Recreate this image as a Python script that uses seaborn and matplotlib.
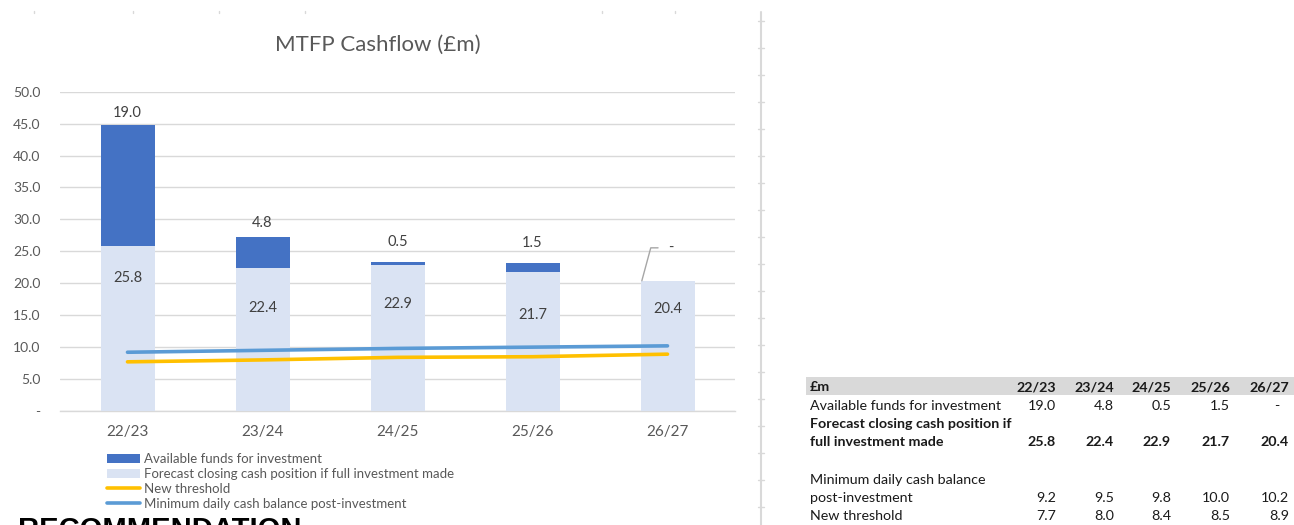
import numpy as np
import pandas as pd
import matplotlib
matplotlib.use("Agg")
import matplotlib.pyplot as plt
from matplotlib.lines import Line2D
from matplotlib.patches import Patch, Rectangle
import seaborn as sns

# ---- data (£m) ----
years = ["22/23", "23/24", "24/25", "25/26", "26/27"]
available_funds = [19.0, 4.8, 0.5, 1.5, 0.0]
closing_cash = [25.8, 22.4, 22.9, 21.7, 20.4]
min_daily_balance = [9.2, 9.5, 9.8, 10.0, 10.2]
new_threshold = [7.7, 8.0, 8.4, 8.5, 8.9]
y_ticks = [0, 5, 10, 15, 20, 25, 30, 35, 40, 45, 50]

series_names = [
    "Available funds for investment",
    "Forecast closing cash position if full investment made",
    "New threshold",
    "Minimum daily cash balance post-investment",
]

# ---- label placement (data units) ----
top_label_y = [46.6, 29.4, 26.4, 26.3, 25.6]
inner_label_y = [20.9, 16.2, 16.7, 15.1, 15.9]

# ---- style ----
DARK = "#4472C4"
LIGHT = "#DAE3F3"
YELLOW = "#FFC000"
BLUE = "#5B9BD5"
GRID = "#D9D9D9"
TXT = "#595959"

W, H = 1294, 525
sns.set_style("white")
plt.rcParams["font.family"] = ["Lato", "DejaVu Sans"]


def fx(px):
    return px / W


def fy(py):
    return 1 - py / H


def fmt(v):
    return "-" if v == 0 else f"{v:.1f}"


fig = plt.figure(figsize=(W / 100, H / 100), dpi=100)
ax = fig.add_axes([fx(60), fy(411), (735 - 60) / W, (411 - 91.7) / H])

df = pd.DataFrame({
    "year": years,
    "total": np.add(closing_cash, available_funds),
    "closing": closing_cash,
})

# stacked bars: full height in dark blue, closing cash overlaid in light blue
sns.barplot(data=df, x="year", y="total", color=DARK, saturation=1,
            width=0.4, linewidth=0, ax=ax, zorder=2)
sns.barplot(data=df, x="year", y="closing", color=LIGHT, saturation=1,
            width=0.4, linewidth=0, ax=ax, zorder=3)

xpos = np.arange(len(years))
sns.lineplot(x=xpos, y=new_threshold, color=YELLOW, linewidth=2.6, ax=ax, zorder=4)
sns.lineplot(x=xpos, y=min_daily_balance, color=BLUE, linewidth=2.6, ax=ax, zorder=4)

# ---- data labels ----
LFS = 10.5
for i, (a, c) in enumerate(zip(available_funds, closing_cash)):
    if a > 0:
        ax.text(i, top_label_y[i], fmt(a), ha="center", va="center",
                fontsize=LFS, color="#404040", zorder=5)
    else:
        # leader line to the dash label above the bar
        ax.plot([i - 0.19, i - 0.124, i - 0.07],
                [c, top_label_y[i] - 0.05, top_label_y[i] - 0.05],
                color="#A6A6A6", lw=1, zorder=5, clip_on=False)
        ax.text(i + 0.024, top_label_y[i], fmt(a), ha="center", va="center",
                fontsize=LFS, color="#404040", zorder=5)
    ax.text(i, inner_label_y[i], fmt(c), ha="center", va="center",
            fontsize=LFS, color="#404040", zorder=5)

# ---- axes styling ----
ax.set_xlim(-0.5, len(years) - 0.5)
ax.set_ylim(0, 50)
ax.set_yticks(y_ticks)
ax.set_yticklabels([fmt(v) for v in y_ticks])
ax.set_xticks(xpos)
ax.set_xticklabels(years)
ax.set_xlabel("")
ax.set_ylabel("")
ax.yaxis.grid(True, color=GRID, linewidth=1)
ax.set_axisbelow(True)
for s in ["top", "right", "left"]:
    ax.spines[s].set_visible(False)
ax.spines["bottom"].set_color(GRID)
ax.spines["bottom"].set_linewidth(1)
ax.spines["bottom"].set_zorder(1)
ax.tick_params(axis="y", length=0, pad=14, labelsize=10, labelcolor=TXT)
ax.tick_params(axis="x", length=0, pad=10, labelsize=11, labelcolor=TXT)

fig.text(fx(378), fy(45), "MTFP Cashflow (£m)", ha="center", va="center",
         fontsize=16, color=TXT)

# ---- legend ----
handles = [
    Patch(facecolor=DARK, edgecolor="none"),
    Patch(facecolor=LIGHT, edgecolor="none"),
    Line2D([], [], color=YELLOW, lw=2.6),
    Line2D([], [], color=BLUE, lw=2.6),
]
fig.legend(handles, series_names, loc="upper left",
           bbox_to_anchor=(fx(107), fy(453)), frameon=False, fontsize=9.5,
           labelcolor=TXT, handlelength=2.5, handleheight=0.7,
           handletextpad=0.3, labelspacing=0.22, borderpad=0,
           borderaxespad=0)

# ---- sheet divider ----
fig.add_artist(Line2D([fx(761), fx(761)], [fy(12), fy(525)],
                      color=GRID, lw=1.5))
for py in np.arange(21, 525, 27):
    fig.add_artist(Line2D([fx(758), fx(764)], [fy(py), fy(py)],
                          color=GRID, lw=1))
for px in [34, 133, 219, 305, 602, 675]:
    fig.add_artist(Line2D([fx(px), fx(px)], [fy(11), fy(13)],
                          color=GRID, lw=1))

# ---- summary table ----
fig.add_artist(Rectangle((fx(806), fy(395)), fx(1294) - fx(806),
                         (395 - 377) / H, transform=fig.transFigure,
                         facecolor=GRID, edgecolor="none"))
col_right = [1056, 1114, 1171, 1230, 1289]
TFS = 10.3
TCOL = "#1a1a1a"
fig.text(fx(810), fy(387), "£m", ha="left", va="center",
         fontsize=TFS, fontweight="bold", color=TCOL)
for x, yr in zip(col_right, years):
    fig.text(fx(x), fy(387), yr, ha="right", va="center",
             fontsize=TFS, fontweight="bold", color=TCOL)


def table_row(py, label_lines, values, bold=False):
    w = "bold" if bold else "normal"
    for lpy, txt in label_lines:
        fig.text(fx(810), fy(lpy), txt, ha="left", va="center",
                 fontsize=TFS, fontweight=w, color=TCOL)
    for x, v in zip(col_right, values):
        xx = x - 10 if v == 0 else x
        fig.text(fx(xx), fy(py), fmt(v), ha="right", va="center",
                 fontsize=TFS, fontweight=w, color=TCOL)


table_row(406, [(406, "Available funds for investment")], available_funds)
table_row(442, [(424, "Forecast closing cash position if"),
                (442, "full investment made")], closing_cash, bold=True)
table_row(498, [(480, "Minimum daily cash balance"),
                (498, "post-investment")], min_daily_balance)
table_row(516, [(516, "New threshold")], new_threshold)

fig.text(fx(18), fy(516), "RECOMMENDATION", ha="left", va="top",
         fontsize=21, fontweight="bold", color="black",
         family=["Liberation Sans", "DejaVu Sans"])

fig.savefig("out.png", dpi=100)
